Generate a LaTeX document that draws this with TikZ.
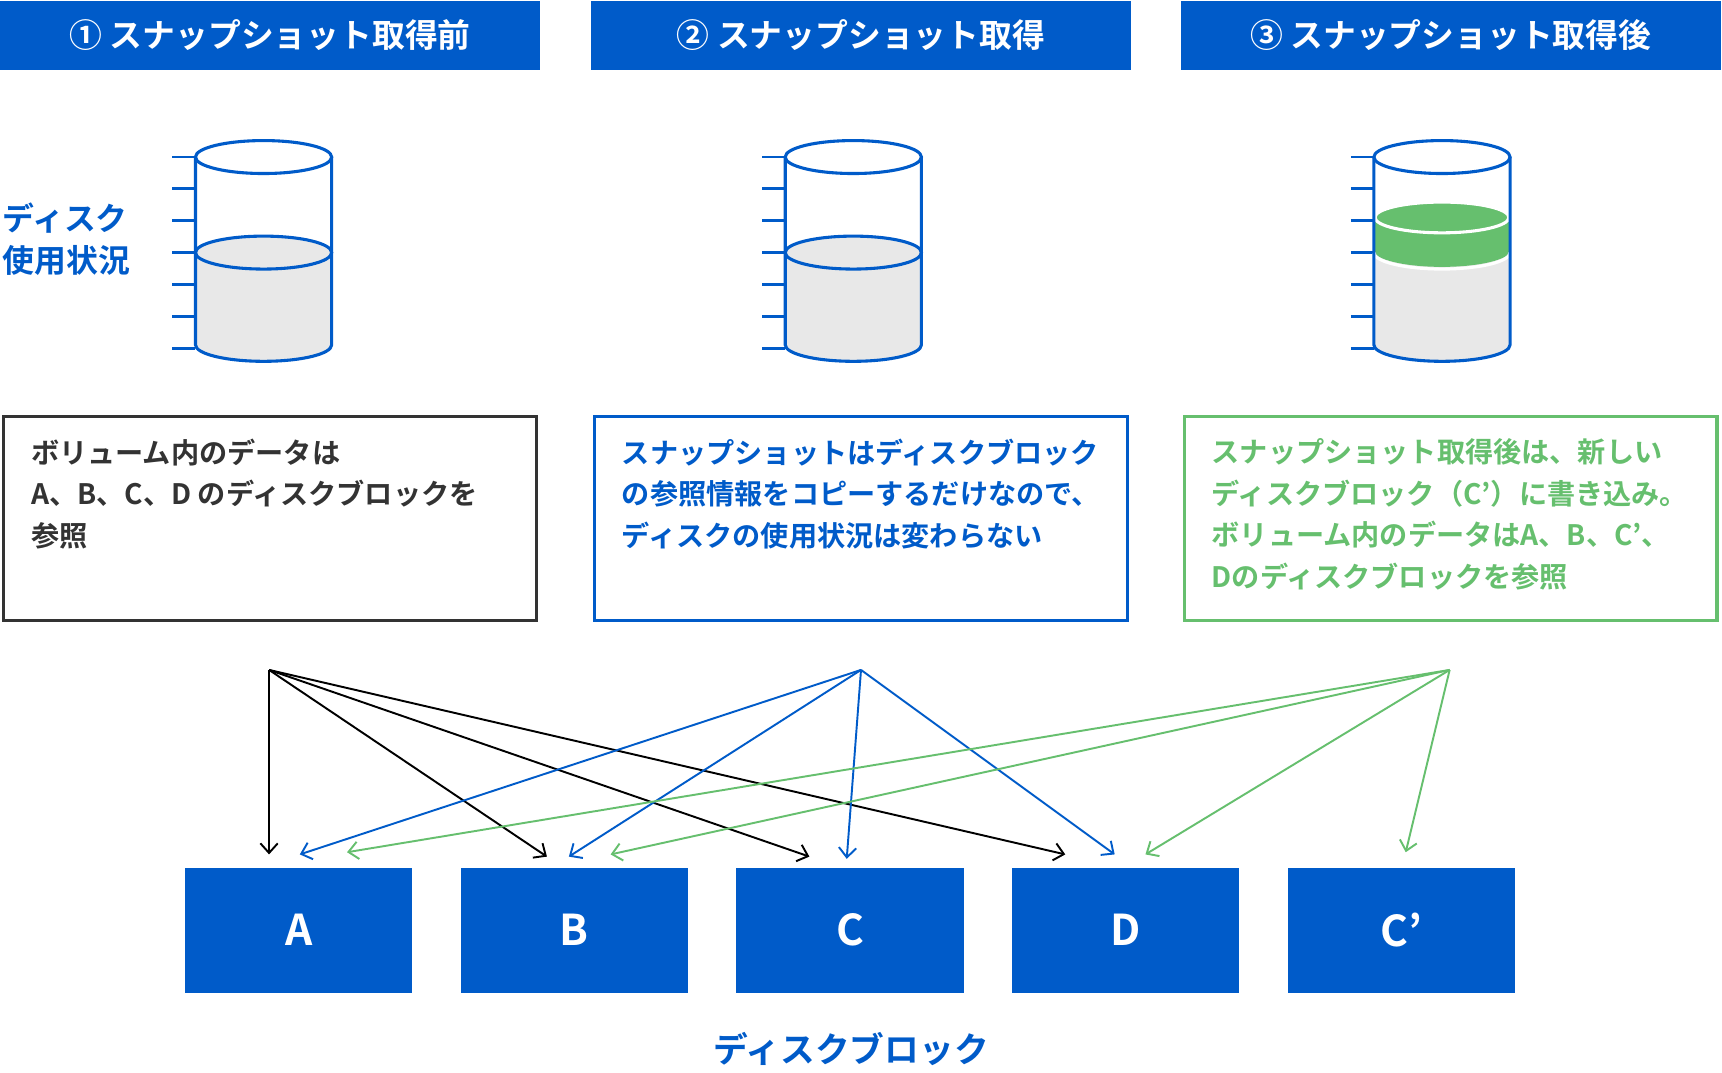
\documentclass[tikz,border=0pt]{standalone}
\usepackage{fontspec}
\setmainfont{Noto Sans CJK JP}[BoldFont={* Bold}]
\usetikzlibrary{positioning,arrows.meta}
\definecolor{mainblue}{HTML}{005BC9}
\definecolor{okgreen}{HTML}{66BF6E}
\definecolor{darkline}{HTML}{333333}
\definecolor{fillgray}{HTML}{E8E8E8}
\tikzset{
  header/.style={fill=mainblue, text=white, font=\bfseries\fontsize{17}{19}\selectfont, minimum width=9.84cm, minimum height=1.26cm, inner sep=0pt},
  note/.style={draw, line width=1.6pt, minimum width=9.7cm, minimum height=3.72cm, inner sep=0pt},
  notetext/.style={align=left, anchor=north west, font=\bfseries\fontsize{14.6}{21.6}\selectfont, inner sep=0pt},
  block/.style={fill=mainblue, text=white, font=\bfseries\fontsize{22}{24}\selectfont, minimum width=4.14cm, minimum height=2.28cm, inner sep=0pt},
  ref/.style={-{Straight Barb[length=5pt, width=9pt]}, line width=1pt},
}
% disk gauge
\newcommand{\gauge}[2]{%
  \begin{scope}[shift={(#1,0)}]
    \foreach \ty in {143,172,201,230,259,288,317}
      \draw[mainblue, line width=1.5pt] (-83,\ty) -- (-62,\ty);
    \fill[fillgray] (-62,230) -- (-62,314) arc[start angle=180, end angle=0, x radius=62, y radius=15] -- (62,230) -- cycle;
    #2
    \draw[mainblue, line width=1.6pt] (0,143) ellipse[x radius=62, y radius=15];
    \draw[mainblue, line width=1.6pt] (-62,143) -- (-62,314) arc[start angle=180, end angle=0, x radius=62, y radius=15] -- (62,143);
  \end{scope}}
\begin{document}
\begin{tikzpicture}[x=0.02cm, y=-0.02cm]
\useasboundingbox (0,0) rectangle (1568,977);

\node[header] (h1) at (246,32) {① スナップショット取得前};
\node[header] (h2) at (784,32) {② スナップショット取得};
\node[header] (h3) at (1321,32) {③ スナップショット取得後};

\node[anchor=north west, align=left, text=mainblue, inner sep=0pt, font=\bfseries\fontsize{16.5}{22}\selectfont] (usage) at (2,184) {ディスク\\使用状況};

\gauge{240}{\draw[mainblue, line width=1.6pt, fill=fillgray] (0,230) ellipse[x radius=62, y radius=15];}
\gauge{777}{\draw[mainblue, line width=1.6pt, fill=fillgray] (0,230) ellipse[x radius=62, y radius=15];}
\gauge{1313}{%
  \fill[okgreen] (-62,198) -- (-62,228) arc[start angle=180, end angle=0, x radius=62, y radius=15] -- (62,198) -- cycle;
  \draw[white, line width=1.6pt] (-62,230) arc[start angle=180, end angle=0, x radius=62, y radius=15];
  \draw[white, line width=1.6pt, fill=okgreen] (0,198) ellipse[x radius=61, y radius=14];}

\node[note, darkline] (n1) at (246,472) {};
\node[note, mainblue] (n2) at (784,472) {};
\node[note, okgreen] (n3) at (1321,472) {};
\node[notetext, text=darkline] at (28,399) {ボリューム内のデータは\\A、B、C、D のディスクブロックを\\参照};
\node[notetext, text=mainblue] at (566,399) {スナップショットはディスクブロック\\の参照情報をコピーするだけなので、\\ディスクの使用状況は変わらない};
\node[notetext, text=okgreen] at (1103,399) {スナップショット取得後は、新しい\\ディスクブロック（C'）に書き込み。\\ボリューム内のデータはA、B、C'、\\Dのディスクブロックを参照};

\node[block] (A) at (272,847) {A};
\node[block] (B) at (523,847) {B};
\node[block] (C) at (774,847) {C};
\node[block] (D) at (1025,847) {D};
\node[block] (Cp) at (1276,847) {C’};
\node[text=mainblue, font=\bfseries\fontsize{18}{20}\selectfont] (lbl) at (775,955) {ディスクブロック};

\coordinate (s1) at (245,610);
\coordinate (s2) at (784,610);
\coordinate (s3) at (1320,610);
\foreach \tx/\ty in {245/778,498/780,737/780,970/778}
  \draw[ref, black] (s1) -- (\tx,\ty);
\foreach \tx/\ty in {273/778,518/780,771/782,1015/778}
  \draw[ref, mainblue] (s2) -- (\tx,\ty);
\foreach \tx/\ty in {316/776,556/778,1043/778,1280/776}
  \draw[ref, okgreen] (s3) -- (\tx,\ty);
\end{tikzpicture}
\end{document}
